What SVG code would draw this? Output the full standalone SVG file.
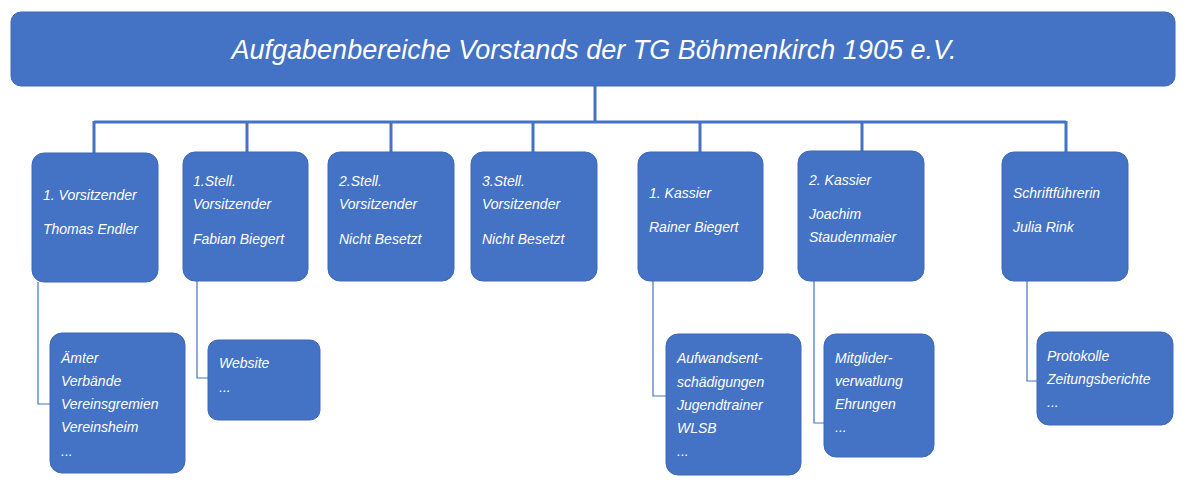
<svg xmlns="http://www.w3.org/2000/svg" width="1188" height="504" viewBox="0 0 1188 504">
<style>
.b{fill:#4472C4;stroke:#3F69B5;stroke-width:1}
.t{font-family:"Liberation Sans",Arial,sans-serif;font-style:italic;font-size:14px;fill:#fff}
.h{font-family:"Liberation Sans",Arial,sans-serif;font-style:italic;font-size:27px;fill:#fff}
.c{fill:none;stroke:#4472C4}
</style>
<rect width="1188" height="504" fill="#fff"/>
<g id="connectors">
<path class="c" stroke-width="3" d="M595 86V122M94 122H1066M94 121V153M247 121V152M391 121V152M533 121V152M700 121V152M862 121V151M1066 121V152"/>
<path class="c" stroke-width="1.2" d="M38 282V404H50M197 281V378H208M653 281V396H666M814 281V423H824M1027 281V381H1037"/>
</g>
<g id="title"><rect class="b" x="11" y="12" width="1164" height="74" rx="10"/><text class="h" x="594" y="59" text-anchor="middle">Aufgabenbereiche Vorstands der TG Böhmenkirch 1905 e.V.</text></g>
<g id="n1"><rect class="b" x="32" y="153" width="126" height="129" rx="12"/><text class="t" x="43" y="200">1. Vorsitzender</text><text class="t" x="43" y="234">Thomas Endler</text></g>
<g id="n2"><rect class="b" x="183" y="152" width="125" height="129" rx="12"/><text class="t" x="193" y="186">1.Stell.</text><text class="t" x="193" y="209">Vorsitzender</text><text class="t" x="193" y="244">Fabian Biegert</text></g>
<g id="n3"><rect class="b" x="328" y="152" width="126" height="129" rx="12"/><text class="t" x="339" y="186">2.Stell.</text><text class="t" x="339" y="209">Vorsitzender</text><text class="t" x="339" y="244">Nicht Besetzt</text></g>
<g id="n4"><rect class="b" x="471" y="152" width="126" height="129" rx="12"/><text class="t" x="482" y="186">3.Stell.</text><text class="t" x="482" y="209">Vorsitzender</text><text class="t" x="482" y="244">Nicht Besetzt</text></g>
<g id="n5"><rect class="b" x="638" y="152" width="125" height="129" rx="12"/><text class="t" x="649" y="198">1. Kassier</text><text class="t" x="649" y="232">Rainer Biegert</text></g>
<g id="n6"><rect class="b" x="798" y="151" width="126" height="130" rx="12"/><text class="t" x="809" y="185">2. Kassier</text><text class="t" x="809" y="219">Joachim</text><text class="t" x="809" y="242">Staudenmaier</text></g>
<g id="n7"><rect class="b" x="1002" y="152" width="126" height="129" rx="12"/><text class="t" x="1013" y="198">Schriftführerin</text><text class="t" x="1013" y="232">Julia Rink</text></g>
<g id="s1"><rect class="b" x="50" y="333" width="135" height="140" rx="12"/><text class="t" x="61" y="363">Ämter</text><text class="t" x="61" y="386">Verbände</text><text class="t" x="61" y="409">Vereinsgremien</text><text class="t" x="61" y="432">Vereinsheim</text><text class="t" x="61" y="456">...</text></g>
<g id="s2"><rect class="b" x="208" y="340" width="112" height="80" rx="10"/><text class="t" x="219" y="368">Website</text><text class="t" x="219" y="392">...</text></g>
<g id="s5"><rect class="b" x="666" y="334" width="135" height="141" rx="12"/><text class="t" x="677" y="363">Aufwandsent-</text><text class="t" x="677" y="387">schädigungen</text><text class="t" x="677" y="410">Jugendtrainer</text><text class="t" x="677" y="433">WLSB</text><text class="t" x="677" y="456">...</text></g>
<g id="s6"><rect class="b" x="824" y="334" width="110" height="123" rx="12"/><text class="t" x="835" y="363">Mitglider-</text><text class="t" x="835" y="386">verwatlung</text><text class="t" x="835" y="409">Ehrungen</text><text class="t" x="835" y="432">...</text></g>
<g id="s7"><rect class="b" x="1037" y="332" width="136" height="93" rx="12"/><text class="t" x="1047" y="361">Protokolle</text><text class="t" x="1047" y="384">Zeitungsberichte</text><text class="t" x="1047" y="407">...</text></g>
</svg>
